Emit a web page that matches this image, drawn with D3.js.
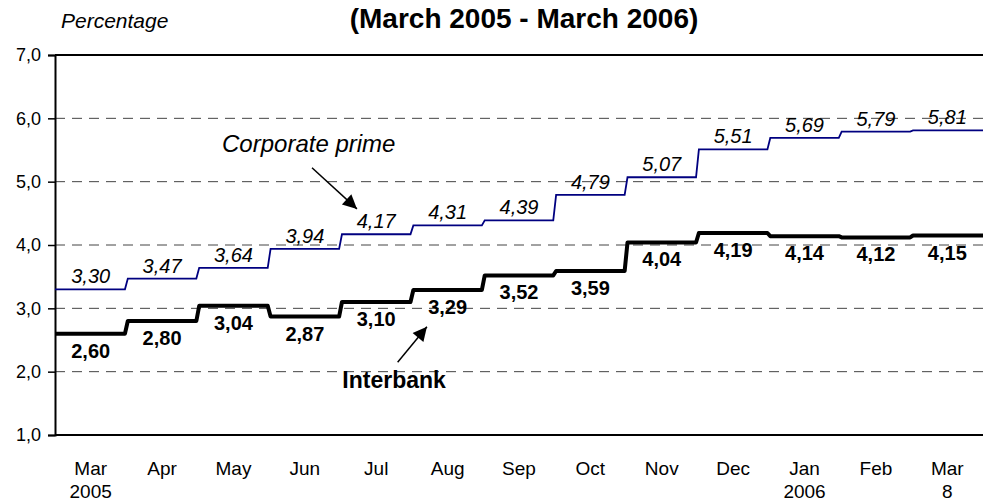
<!DOCTYPE html>
<html>
<head>
<meta charset="utf-8">
<script src="https://cdn.jsdelivr.net/npm/d3@7"></script>
<style>
  html, body { margin: 0; padding: 0; background: #fff; }
  svg { display: block; font-family: "Liberation Sans", Arial, sans-serif; }
</style>
</head>
<body>
<svg id="chart" width="983" height="503"></svg>
<script>
// ---- data ----
const months = ["Mar", "Apr", "May", "Jun", "Jul", "Aug", "Sep", "Oct", "Nov", "Dec", "Jan", "Feb", "Mar"];
const years = ["2005", "", "", "", "", "", "", "", "", "", "2006", "", "8"];
const corporatePrime = [3.30, 3.47, 3.64, 3.94, 4.17, 4.31, 4.39, 4.79, 5.07, 5.51, 5.69, 5.79, 5.81];
const interbank = [2.60, 2.80, 3.04, 2.87, 3.10, 3.29, 3.52, 3.59, 4.04, 4.19, 4.14, 4.12, 4.15];
const yTicks = [1, 2, 3, 4, 5, 6, 7];
const titleText = "(March 2005 - March 2006)";
const yAxisTitle = "Percentage";

(function () {
// ---- layout ----
const svg = d3.select("#chart");
const mL = 55, mR = 983, mT = 55, mB = 435;

const x = d3.scaleLinear().domain([0, months.length]).range([mL, mR]);
const y = d3.scaleLinear().domain([1, 7]).range([mB, mT]);

const comma = s => s.replace(".", ",");
const f1 = v => comma(d3.format(".1f")(v));
const f2 = v => comma(d3.format(".2f")(v));

// gridlines
svg.append("g")
  .selectAll("line")
  .data(yTicks.filter(t => t > 1 && t < 7))
  .join("line")
  .attr("x1", mL).attr("x2", mR)
  .attr("y1", d => y(d)).attr("y2", d => y(d))
  .attr("stroke", "#444")
  .attr("stroke-width", 1)
  .attr("stroke-dasharray", "10,7");

// y axis
const yAxis = d3.axisLeft(y).tickValues(yTicks).tickFormat(f1).tickSize(7).tickPadding(7);
const gy = svg.append("g").attr("transform", `translate(${mL},0)`).call(yAxis);
gy.select(".domain").attr("stroke", "#000").attr("stroke-width", 2);
gy.selectAll(".tick line").attr("stroke", "#000").attr("stroke-width", 1.5);
gy.selectAll(".tick text").attr("font-size", 18).attr("fill", "#000")
  .attr("font-family", "Liberation Sans, Arial, sans-serif");

// top border and bottom axis line
svg.append("line").attr("x1", mL).attr("x2", mR).attr("y1", y(7)).attr("y2", y(7))
  .attr("stroke", "#000").attr("stroke-width", 2);
svg.append("line").attr("x1", mL).attr("x2", mR).attr("y1", y(1)).attr("y2", y(1))
  .attr("stroke", "#000").attr("stroke-width", 2);

// x labels
const xl = svg.append("g");
xl.selectAll("text.m").data(months).join("text")
  .attr("class", "m")
  .attr("x", (d, i) => x(i + 0.5)).attr("y", 475)
  .attr("text-anchor", "middle").attr("font-size", 19).attr("fill", "#000")
  .text(d => d);
xl.selectAll("text.yr").data(years).join("text")
  .attr("class", "yr")
  .attr("x", (d, i) => x(i + 0.5)).attr("y", 498)
  .attr("text-anchor", "middle").attr("font-size", 19).attr("fill", "#000")
  .text(d => d);

// step lines
function stepPoints(vals) {
  const pts = [];
  const n = vals.length;
  const e = 0.02;
  vals.forEach((v, i) => {
    pts.push([i === 0 ? 0 : i + e, v]);
    pts.push([i === n - 1 ? n : i + 1 - e, v]);
  });
  return pts;
}
const line = d3.line().x(d => x(d[0])).y(d => y(d[1]));

svg.append("path").datum(stepPoints(corporatePrime))
  .attr("d", line).attr("fill", "none")
  .attr("stroke", "#000080").attr("stroke-width", 1.8);

svg.append("path").datum(stepPoints(interbank))
  .attr("d", line).attr("fill", "none")
  .attr("stroke", "#000").attr("stroke-width", 4).attr("stroke-linejoin", "round");

// value labels
svg.append("g").selectAll("text").data(corporatePrime).join("text")
  .attr("x", (d, i) => x(i + 0.5)).attr("y", d => y(d) - 6)
  .attr("text-anchor", "middle").attr("font-size", 20).attr("font-style", "italic")
  .attr("fill", "#000").text(d => f2(d));

svg.append("g").selectAll("text").data(interbank).join("text")
  .attr("x", (d, i) => x(i + 0.5)).attr("y", d => y(d) + 24)
  .attr("text-anchor", "middle").attr("font-size", 20).attr("font-weight", "bold")
  .attr("fill", "#000").text(d => f2(d));

// title texts
svg.append("text").attr("x", 524).attr("y", 28)
  .attr("text-anchor", "middle").attr("font-size", 28).attr("font-weight", "bold")
  .attr("fill", "#000").text(titleText);
svg.append("text").attr("x", 61).attr("y", 28)
  .attr("font-size", 21).attr("font-style", "italic")
  .attr("fill", "#000").text(yAxisTitle);

// arrow marker
const defs = svg.append("defs");
defs.append("marker").attr("id", "ah2").attr("viewBox", "0 0 10 10")
  .attr("refX", 10).attr("refY", 5).attr("markerWidth", 18).attr("markerHeight", 14)
  .attr("markerUnits", "userSpaceOnUse").attr("orient", "auto")
  .append("path").attr("d", "M0,0 L10,5 L0,10 z").attr("fill", "#000");

// annotations
svg.append("text").attr("x", x(2.34)).attr("y", y(5.47))
  .attr("font-size", 24).attr("font-style", "italic").attr("fill", "#000")
  .text("Corporate prime");
svg.append("line").attr("x1", x(3.6)).attr("y1", y(5.22)).attr("x2", x(4.23)).attr("y2", y(4.57))
  .attr("stroke", "#000").attr("stroke-width", 1.5).attr("marker-end", "url(#ah2)");

svg.append("text").attr("x", x(4.75)).attr("y", y(1.74))
  .attr("text-anchor", "middle")
  .attr("font-size", 23).attr("font-weight", "bold").attr("fill", "#000")
  .text("Interbank");
svg.append("line").attr("x1", x(4.8)).attr("y1", y(2.15)).attr("x2", x(5.21)).attr("y2", y(2.71))
  .attr("stroke", "#000").attr("stroke-width", 1.5).attr("marker-end", "url(#ah2)");
})();
</script>
</body>
</html>
